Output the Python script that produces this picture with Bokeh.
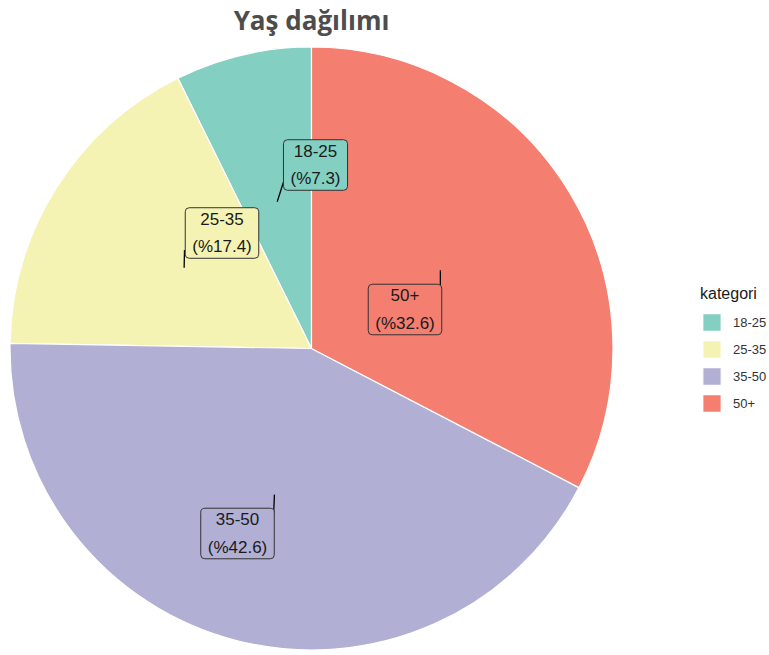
import numpy as np
from bokeh.plotting import figure
from bokeh.models import ColumnDataSource, Range1d, Legend, LegendItem, Label
from bokeh.embed import file_html
from bokeh.resources import INLINE
from bokeh.core.properties import value

# ---- data ----
categories = ["18-25", "25-35", "35-50", "50+"]
percents = [7.3, 17.4, 42.6, 32.6]
colors = ["#83CFC2", "#F5F3B3", "#B1AFD4", "#F47F71"]
title_text = "Yaş dağılımı"
legend_title = "kategori"

# ---- layout (pixels) ----
W, H = 769, 655
cx, cy = 311, H - 348
R = 301.5
# label box centres (pixels, y from top) and half sizes
label_px = [315, 221.5, 237, 404.5]
label_py = [164.5, 232.5, 533, 309]
box_hw = [32, 37.5, 36, 37.5]
box_hh = [25, 25, 25, 25]

vals = np.array(percents, dtype=float)
total = vals.sum()
after = np.array([vals[i + 1:].sum() for i in range(len(vals))])
f_start = after / total
f_end = (after + vals) / total
start = np.pi / 2 - 2 * np.pi * f_start
end = np.pi / 2 - 2 * np.pi * f_end
mid = (f_start + f_end) / 2 * 2 * np.pi
ax = cx + R / 2 * np.sin(mid)
ay = cy + R / 2 * np.cos(mid)

lx = np.array(label_px, dtype=float)
ly = H - np.array(label_py, dtype=float)
hw = np.array(box_hw)
hh = np.array(box_hh)
sx = np.clip(ax, lx - hw, lx + hw)
sy = np.clip(ay, ly - hh + 8, ly + hh - 8)

texts = [f"{c}\n(%{v:.1f})" for c, v in zip(categories, percents)]

src = ColumnDataSource(dict(cat=categories, val=percents, color=colors,
                            start=start, end=end,
                            ax=ax, ay=ay, sx=sx, sy=sy,
                            lx=lx, ly=ly, text=texts))

p = figure(width=W, height=H, output_backend="svg", toolbar_location=None,
           x_range=Range1d(0, W), y_range=Range1d(0, H),
           x_axis_type=None, y_axis_type=None, min_border=0,
           outline_line_color=None)
p.grid.visible = False

wedges = p.wedge(x=cx, y=cy, radius=R, start_angle="start", end_angle="end",
                 direction="clock", fill_color="color", line_color="white",
                 line_width=1.2, source=src)

p.segment(x0="ax", y0="ay", x1="sx", y1="sy", line_color="black",
          line_width=1.3, source=src)

p.text(x="lx", y="ly", text="text", source=src, text_align="center",
       text_baseline="middle", text_font=value("Liberation Sans"),
       text_font_size="17px", text_color="#1a1a1a", text_line_height=1.45,
       background_fill_color="color", border_line_color="#333333",
       border_line_width=1, border_radius=4,
       padding=dict(left=7, right=7, top=2, bottom=2))

items = [LegendItem(label=c, renderers=[wedges], index=i)
         for i, c in enumerate(categories)]
legend = Legend(items=items, location=(700, 241), title=legend_title,
                title_text_font_size="16px", title_text_font_style="normal",
                title_text_font="Liberation Sans", title_text_color="#1a1a1a",
                label_text_font="Liberation Sans", label_text_font_size="13px",
                label_text_color="#333333",
                glyph_width=23, glyph_height=22, label_height=22, spacing=5,
                padding=0, margin=0, border_line_color=None,
                background_fill_alpha=0, label_standoff=10, title_standoff=8)
p.add_layout(legend)

p.add_layout(Label(x=311, y=H - 37, text=title_text, text_align="center",
                   text_baseline="bottom", text_font="Open Sans",
                   text_font_style="bold", text_font_size="26px",
                   text_color="#4D4D4D"))

open("out.html", "w").write(file_html(p, INLINE))
